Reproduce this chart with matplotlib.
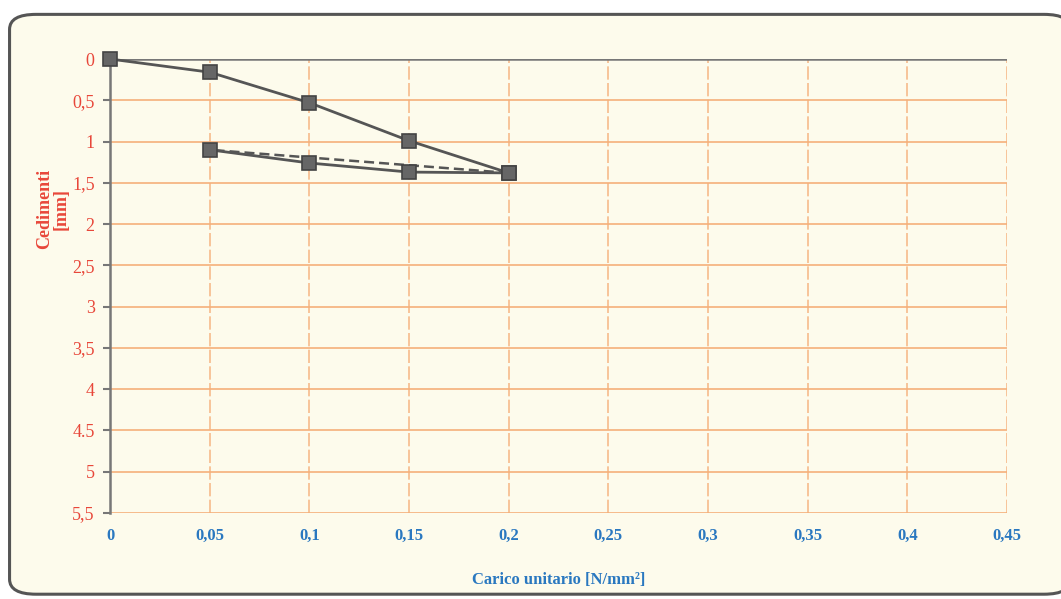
import matplotlib.pyplot as plt
from matplotlib.patches import FancyBboxPatch

# load / unload / reload curves
carico_salita = [0, 0.05, 0.1, 0.15, 0.2]
ced_salita = [0, 0.16, 0.53, 0.99, 1.38]

carico_scarico = [0.2, 0.05]
ced_scarico = [1.38, 1.10]

carico_ricarico = [0.05, 0.1, 0.15, 0.2]
ced_ricarico = [1.10, 1.26, 1.37, 1.38]

x_ticks = [0, 0.05, 0.1, 0.15, 0.2, 0.25, 0.3, 0.35, 0.4, 0.45]
x_labels = ["0", "0,05", "0,1", "0,15", "0,2", "0,25", "0,3", "0,35", "0,4", "0,45"]
y_ticks = [0, 0.5, 1, 1.5, 2, 2.5, 3, 3.5, 4, 4.5, 5, 5.5]
y_labels = ["0", "0,5", "1", "1,5", "2", "2,5", "3", "3,5", "4", "4.5", "5", "5,5"]

bg = "#fdfbec"
grid_col = "#f5b07a"
line_col = "#555555"
red = "#e8473a"
blue = "#2a78c0"
serif = ["Liberation Serif", "DejaVu Serif"]

fig = plt.figure(figsize=(10.61, 5.99), dpi=100)
fig.patch.set_facecolor("white")

# rounded frame around the chart
frame = FancyBboxPatch((0.009, 0.008), 1.0, 0.968, boxstyle="round,pad=0,rounding_size=0.025",
                       transform=fig.transFigure, facecolor=bg, edgecolor="#555555", lw=2.2,
                       zorder=-5)
fig.patches.append(frame)

ax = fig.add_axes([0.1037, 0.1436, 0.8454, 0.7579])
ax.set_zorder(2)
ax.set_facecolor(bg)

ax.set_xlim(0, 0.45)
ax.set_ylim(5.5, 0)

# grid
for yv in y_ticks[1:]:
    ax.axhline(yv, color=grid_col, lw=1.2, zorder=1)
for xv in x_ticks[1:]:
    ax.axvline(xv, color=grid_col, lw=1.2, ls=(0, (8, 2)), alpha=0.85, zorder=1)
ax.axhline(0, color="#777777", lw=1.8, zorder=2)

mk = dict(marker="s", ms=10, mfc="#666666", mec="#444444", mew=1.2)
ax.plot(carico_salita, ced_salita, color=line_col, lw=2, zorder=4, clip_on=False, **mk)
ax.plot(carico_scarico, ced_scarico, color=line_col, lw=1.8, ls=(0, (4, 2)), zorder=3)
ax.plot(carico_ricarico[:3], ced_ricarico[:3], color=line_col, lw=2, zorder=4, **mk)
ax.plot(carico_ricarico[2:], ced_ricarico[2:], color=line_col, lw=2, zorder=3)
ax.plot([0.2], [1.38], ls="none", zorder=5, **mk)

for s in ["top", "right", "bottom"]:
    ax.spines[s].set_visible(False)
ax.spines["left"].set_color("#777777")
ax.spines["left"].set_linewidth(1.8)

ax.set_xticks(x_ticks)
ax.set_xticklabels(x_labels, family=serif, fontsize=12, color=blue, fontweight="bold")
ax.set_yticks(y_ticks)
ax.set_yticklabels(y_labels, family=serif, fontsize=13, color=red)
ax.tick_params(axis="x", length=0, pad=11)
ax.tick_params(axis="y", length=5, width=1.5, color="#777777", pad=6)

ax.set_xlabel("Carico unitario [N/mm²]", family=serif, fontsize=12, color=blue,
              fontweight="bold")
ax.xaxis.set_label_coords(0.5, -0.13)
ax.set_ylabel("Cedimenti\n[mm]", family=serif, fontsize=13, color=red,
              fontweight="bold", linespacing=1.0)
ax.yaxis.set_label_coords(-0.045, 0.67)

fig.savefig("out.png", dpi=100, facecolor=fig.get_facecolor())
